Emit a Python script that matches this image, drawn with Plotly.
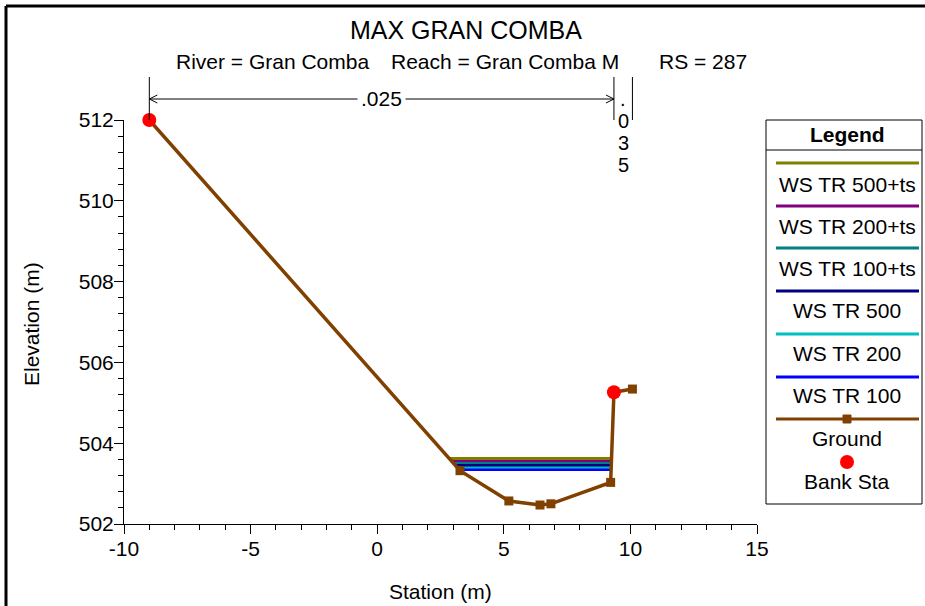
import plotly.graph_objects as go

# ---------------- data ----------------
STATION = [-9.0, 3.27, 5.20, 6.43, 6.86, 9.22, 9.35, 10.08]
ELEVATION = [512.0, 503.32, 502.57, 502.47, 502.50, 503.03, 505.26, 505.34]
BANK_STA = [-9.0, 9.35]
BANK_ELEV = [512.0, 505.26]
WS_NAMES = ["WS TR 500+ts", "WS TR 200+ts", "WS TR 100+ts", "WS TR 500", "WS TR 200", "WS TR 100"]
WS_ELEV = [503.62, 503.57, 503.52, 503.46, 503.41, 503.35]
WS_COLORS = ["#808000", "#800080", "#008080", "#000080", "#00C0C0", "#0000FF"]
N_VALUES = [".025", ".035"]
N_BREAKS = [-9.0, 9.35, 10.08]
X_TICKS = [-10, -5, 0, 5, 10, 15]
Y_TICKS = [502, 504, 506, 508, 510, 512]
X_RANGE = [-10, 15]
Y_RANGE = [502, 512]

TITLE = "MAX GRAN COMBA"
SUB_RIVER = "River = Gran Comba"
SUB_REACH = "Reach = Gran Comba M"
SUB_RS = "RS = 287"

FONT = "Arial, Liberation Sans, sans-serif"
BROWN = "#804000"

# plot-area pixel geometry (layout)
W, H = 925, 606
PL, PR, PT, PB = 124, 757, 120, 524


def pxx(px):
    return (px - PL) / (PR - PL)


def pxy(py):
    return (PB - py) / (PB - PT)


def dx(x):
    return (x - X_RANGE[0]) / (X_RANGE[1] - X_RANGE[0])


def ws_extent(ws):
    xs = []
    for i in range(len(STATION) - 1):
        y0, y1 = ELEVATION[i], ELEVATION[i + 1]
        if (y0 - ws) * (y1 - ws) <= 0 and y0 != y1:
            t = (ws - y0) / (y1 - y0)
            xs.append(STATION[i] + t * (STATION[i + 1] - STATION[i]))
    return min(xs), max(xs)


fig = go.Figure()

# water surfaces (drawn lowest first so the highest is on top)
for name, ws, col in reversed(list(zip(WS_NAMES, WS_ELEV, WS_COLORS))):
    x0, x1 = ws_extent(ws)
    fig.add_trace(go.Scatter(x=[x0, x1], y=[ws, ws], mode="lines", name=name,
                             line=dict(color=col, width=3), showlegend=False,
                             hoverinfo="skip"))

fig.add_trace(go.Scatter(x=STATION, y=ELEVATION, mode="lines+markers", name="Ground",
                         line=dict(color=BROWN, width=3.5),
                         marker=dict(symbol="square", size=9, color=BROWN),
                         showlegend=False, cliponaxis=False))
fig.add_trace(go.Scatter(x=BANK_STA, y=BANK_ELEV, mode="markers", name="Bank Sta",
                         marker=dict(symbol="circle", size=14, color="#FF0000"),
                         showlegend=False, cliponaxis=False))

shapes = []
annotations = []

# outer frame (top and left edges)
shapes.append(dict(type="line", xref="paper", yref="paper", x0=pxx(6), x1=pxx(W + 2),
                   y0=pxy(6), y1=pxy(6), line=dict(color="black", width=3)))
shapes.append(dict(type="line", xref="paper", yref="paper", x0=pxx(6), x1=pxx(6),
                   y0=pxy(6), y1=pxy(H + 2), line=dict(color="black", width=3)))

# titles
annotations.append(dict(text=TITLE, xref="paper", yref="paper", x=pxx(466), y=pxy(30),
                        showarrow=False, font=dict(size=25, family=FONT, color="black"),
                        xanchor="center", yanchor="middle"))
for txt, px in [(SUB_RIVER, 174), (SUB_REACH, 389), (SUB_RS, 657)]:
    annotations.append(dict(text=txt, xref="paper", yref="paper", x=pxx(px), y=pxy(61),
                            showarrow=False, font=dict(size=21, family=FONT, color="black"),
                            xanchor="left", yanchor="middle"))

# Manning's n markers
y_arrow = pxy(99)
y_top = pxy(77)
y_bot = pxy(120)
for xb in N_BREAKS:
    shapes.append(dict(type="line", xref="paper", yref="paper", x0=dx(xb), x1=dx(xb),
                       y0=y_top, y1=y_bot, line=dict(color="black", width=1)))
xa, xb_ = dx(N_BREAKS[0]), dx(N_BREAKS[1])
shapes.append(dict(type="line", xref="paper", yref="paper", x0=xa, x1=xb_, y0=y_arrow, y1=y_arrow,
                   line=dict(color="black", width=1)))
ahx = 8 / (PR - PL)
ahy = 4 / (PB - PT)
shapes.append(dict(type="path", xref="paper", yref="paper",
                   path=f"M {xa + ahx} {y_arrow + ahy} L {xa} {y_arrow} L {xa + ahx} {y_arrow - ahy}",
                   line=dict(color="black", width=1)))
shapes.append(dict(type="path", xref="paper", yref="paper",
                   path=f"M {xb_ - ahx} {y_arrow + ahy} L {xb_} {y_arrow} L {xb_ - ahx} {y_arrow - ahy}",
                   line=dict(color="black", width=1)))
annotations.append(dict(text=N_VALUES[0], xref="paper", yref="paper", x=(xa + xb_) / 2, y=y_arrow,
                        showarrow=False, bgcolor="white", borderpad=3,
                        font=dict(size=21, family=FONT, color="black"),
                        xanchor="center", yanchor="middle"))
xn2 = (dx(N_BREAKS[1]) + dx(N_BREAKS[2])) / 2
for ch, cy in zip(N_VALUES[1], [99, 121, 143, 165]):
    annotations.append(dict(text=ch, xref="paper", yref="paper", x=xn2, y=pxy(cy),
                            showarrow=False, font=dict(size=20, family=FONT, color="black"),
                            xanchor="center", yanchor="middle"))

# axis titles
annotations.append(dict(text="Station (m)", xref="paper", yref="paper", x=pxx(440), y=pxy(591),
                        showarrow=False, font=dict(size=21, family=FONT, color="black"),
                        xanchor="center", yanchor="middle"))
annotations.append(dict(text="Elevation (m)", xref="paper", yref="paper", x=pxx(31), y=pxy(324),
                        showarrow=False, textangle=-90, font=dict(size=21, family=FONT, color="black"),
                        xanchor="center", yanchor="middle"))

# custom legend box
LX0, LX1, LY0, LY1 = 766, 922, 120, 504
shapes.append(dict(type="rect", xref="paper", yref="paper", x0=pxx(LX0), x1=pxx(LX1),
                   y0=pxy(LY0), y1=pxy(LY1), line=dict(color="black", width=1),
                   fillcolor="white", layer="below"))
shapes.append(dict(type="line", xref="paper", yref="paper", x0=pxx(LX0), x1=pxx(LX1),
                   y0=pxy(150), y1=pxy(150), line=dict(color="black", width=1)))
LCX = 847
annotations.append(dict(text="<b>Legend</b>", xref="paper", yref="paper", x=pxx(LCX), y=pxy(134),
                        showarrow=False, font=dict(size=21, family=FONT, color="black"),
                        xanchor="center", yanchor="middle"))
line_y = [163, 206, 248, 291, 334, 377]
text_y = [184, 226, 268, 310, 353, 395]
for name, col, ly, ty in zip(WS_NAMES, WS_COLORS, line_y, text_y):
    shapes.append(dict(type="line", xref="paper", yref="paper", x0=pxx(776), x1=pxx(919),
                       y0=pxy(ly), y1=pxy(ly), line=dict(color=col, width=3)))
    annotations.append(dict(text=name, xref="paper", yref="paper", x=pxx(LCX), y=pxy(ty),
                            showarrow=False, font=dict(size=21, family=FONT, color="black"),
                            xanchor="center", yanchor="middle"))
# ground legend
shapes.append(dict(type="line", xref="paper", yref="paper", x0=pxx(776), x1=pxx(919),
                   y0=pxy(419), y1=pxy(419), line=dict(color=BROWN, width=3)))
shapes.append(dict(type="rect", xref="paper", yref="paper", x0=pxx(LCX - 4), x1=pxx(LCX + 4),
                   y0=pxy(415), y1=pxy(423), line=dict(color=BROWN, width=1), fillcolor=BROWN))
annotations.append(dict(text="Ground", xref="paper", yref="paper", x=pxx(LCX), y=pxy(438),
                        showarrow=False, font=dict(size=21, family=FONT, color="black"),
                        xanchor="center", yanchor="middle"))
shapes.append(dict(type="circle", xref="paper", yref="paper", x0=pxx(LCX - 7), x1=pxx(LCX + 7),
                   y0=pxy(455), y1=pxy(469), line=dict(color="#FF0000", width=0), fillcolor="#FF0000"))
annotations.append(dict(text="Bank Sta", xref="paper", yref="paper", x=pxx(LCX), y=pxy(481),
                        showarrow=False, font=dict(size=21, family=FONT, color="black"),
                        xanchor="center", yanchor="middle"))

axis_common = dict(showgrid=False, zeroline=False, showline=True, linecolor="black", linewidth=1,
                   ticks="outside", ticklen=9, tickcolor="black", tickwidth=1,
                   tickfont=dict(size=21, family=FONT, color="black"), mirror=False)

fig.update_layout(
    width=W, height=H,
    margin=dict(l=PL, r=W - PR, t=PT, b=H - PB, autoexpand=False),
    paper_bgcolor="white", plot_bgcolor="white",
    showlegend=False,
    xaxis=dict(range=X_RANGE, tickvals=X_TICKS, ticktext=[str(v) for v in X_TICKS],
               minor=dict(dtick=1, tick0=-10, ticks="outside", ticklen=5, tickcolor="black"),
               ticklabelstandoff=-3, **axis_common),
    yaxis=dict(range=Y_RANGE, tickvals=Y_TICKS, ticktext=[str(v) for v in Y_TICKS],
               minor=dict(dtick=0.4, tick0=502, ticks="outside", ticklen=5, tickcolor="black"),
               ticklabelstandoff=-4, **axis_common),
    shapes=shapes,
    annotations=annotations,
)

fig.write_html("out.html", config={"displayModeBar": False},
               post_script="document.body.style.margin='0';document.body.style.overflow='hidden';")
